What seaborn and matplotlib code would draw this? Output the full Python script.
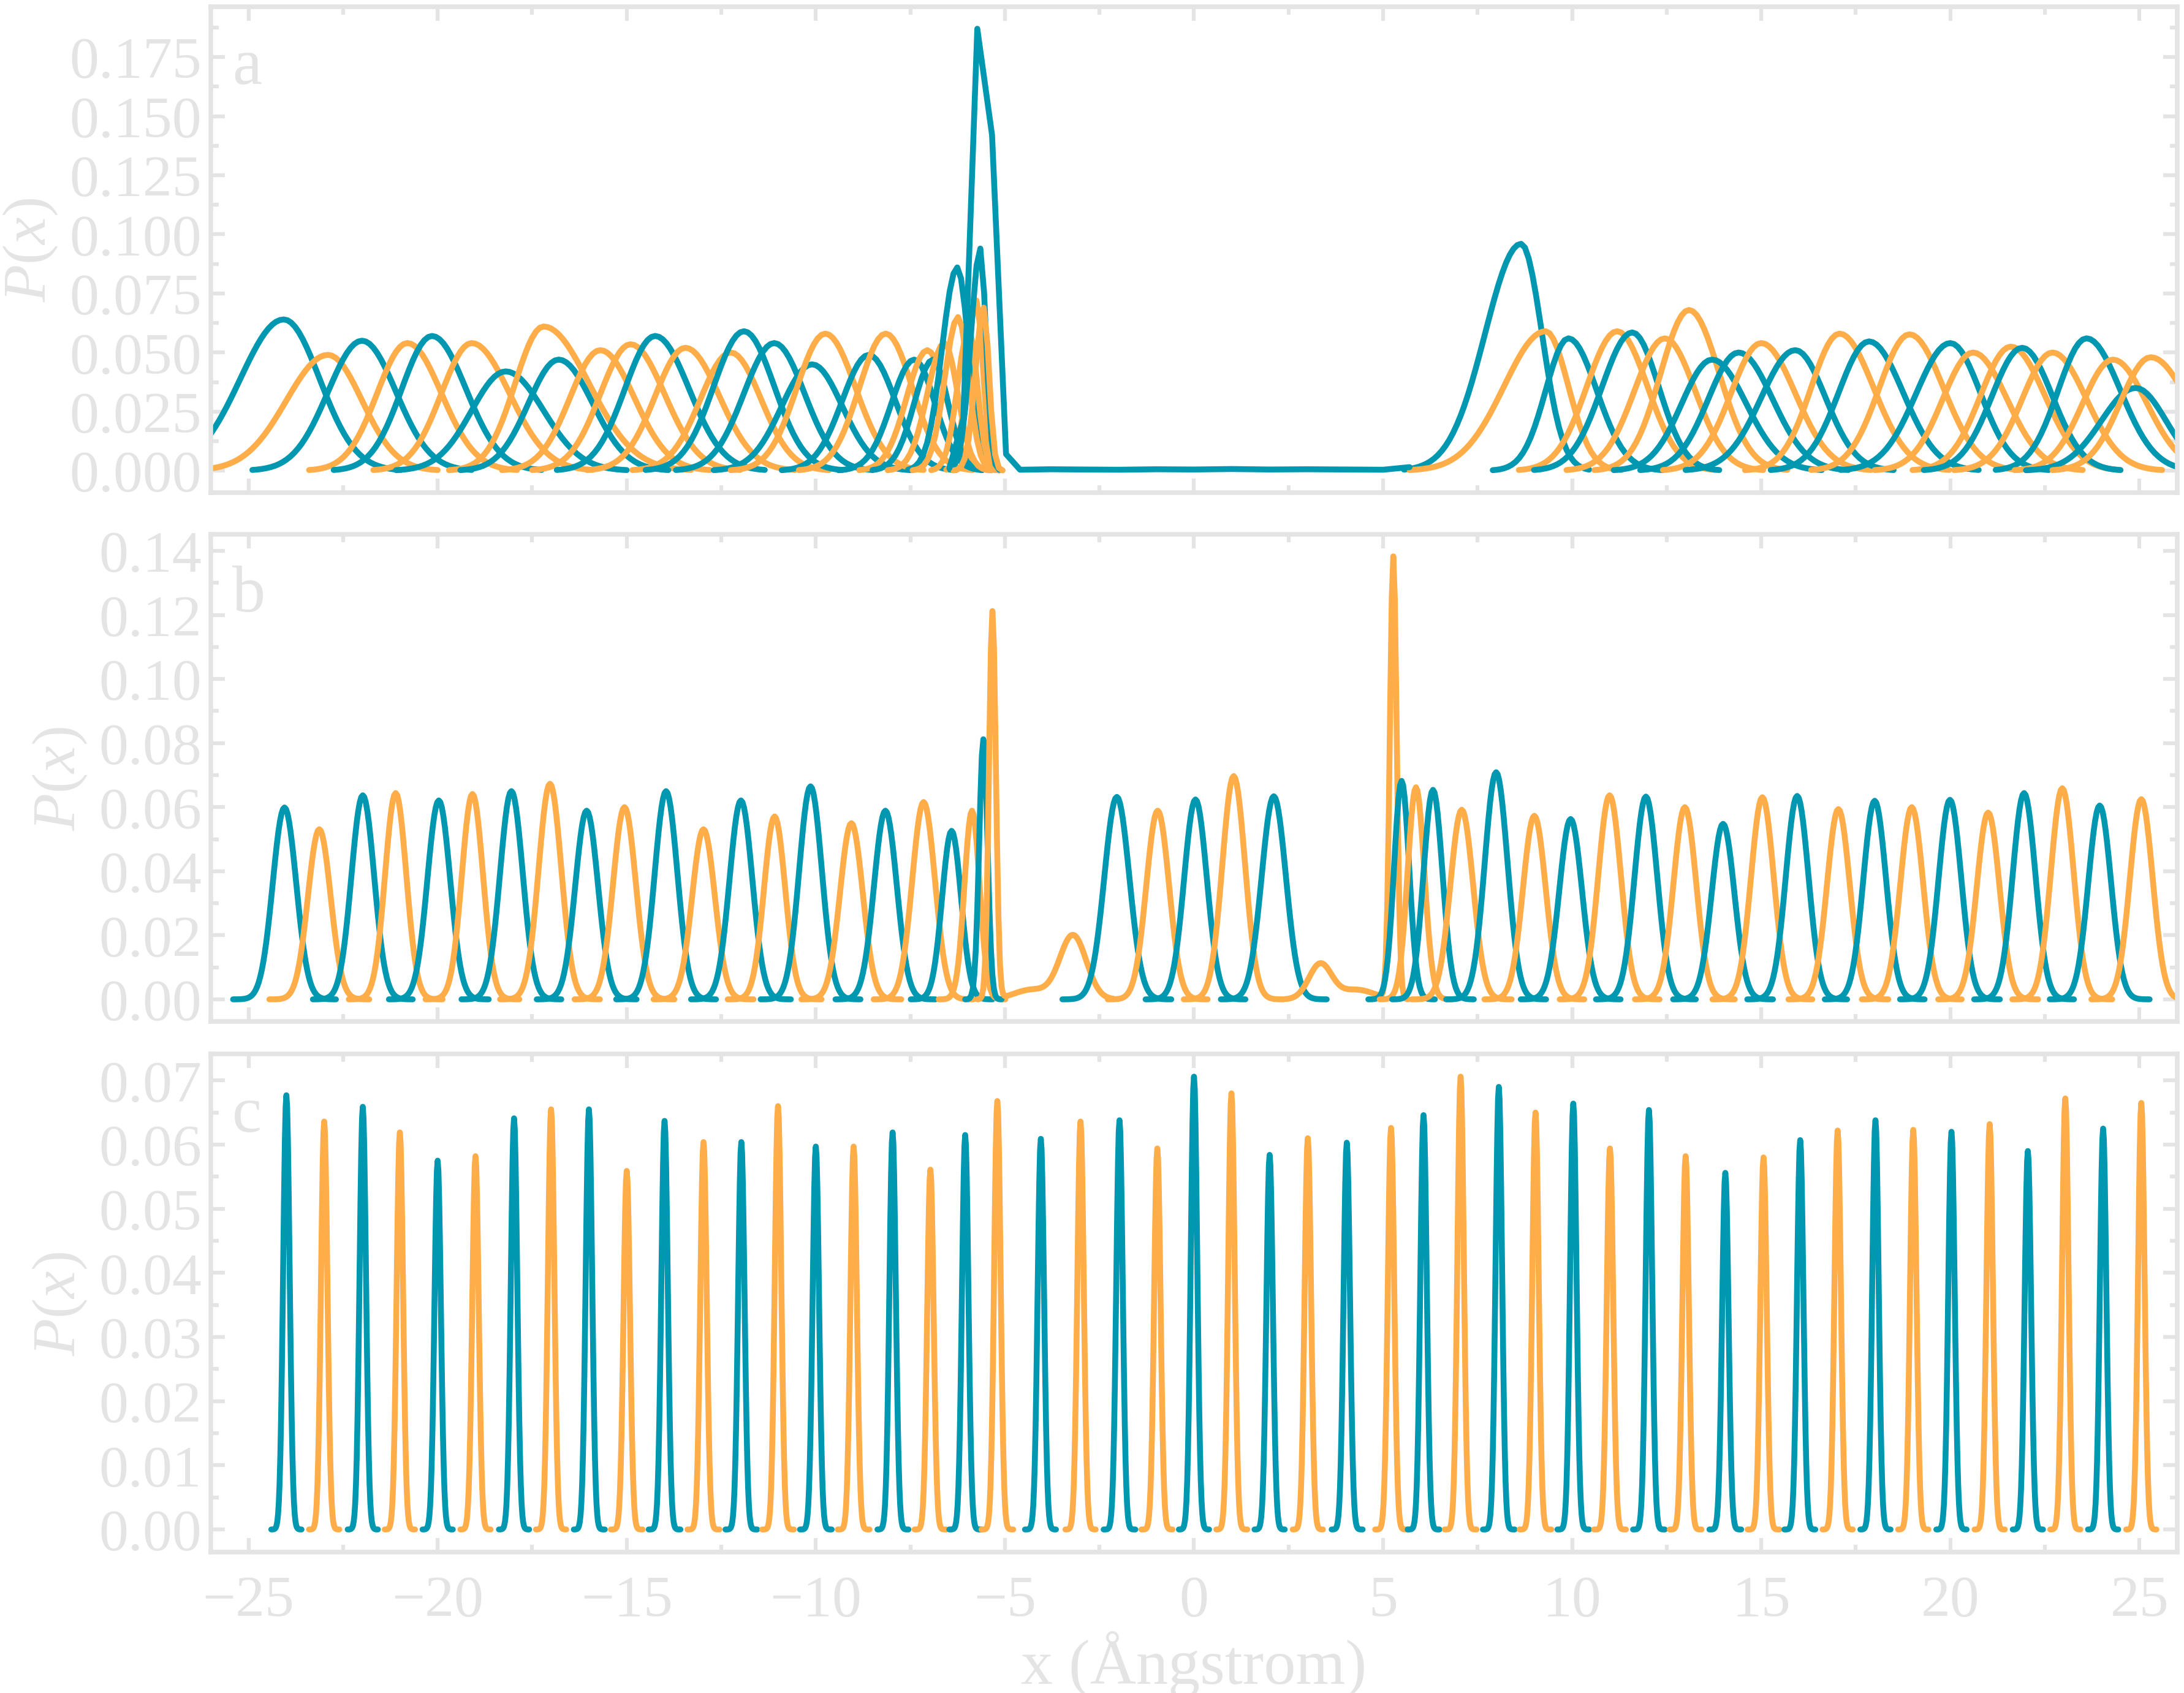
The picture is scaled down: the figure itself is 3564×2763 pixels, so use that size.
#!/usr/bin/env python3
"""
Umbrella sampling window histograms, three panels (a, b, c).
Values read off the reference figure; each window is described by its peak
position, height and width.
"""

import numpy as np
import pandas as pd
import matplotlib
matplotlib.use("Agg")
import matplotlib.pyplot as plt
import seaborn as sns
from matplotlib.ticker import MultipleLocator, AutoMinorLocator

TEAL = "#0097b0"
ORANGE = "#ffad48"
GRAY = "#e4e4e4"
COLORS = {"T": TEAL, "O": ORANGE}

# ---------------- panel a ----------------
a_centers = [-24.07, -22.9, -22.0, -20.8, -20.15, -19.1, -18.2, -17.2, -16.8, -15.7,
             -14.9, -14.25, -13.45, -12.25, -11.9, -11.1, -10.1, -9.75, -8.6, -8.15,
             -7.4, -7.05, -6.9, -6.6, -6.26, -6.24, -5.95, -5.75, -5.65, -5.56,
             8.65, 9.3, 9.9, 11.19, 11.59, 12.45, 13.09, 13.7, 14.4, 15.0,
             15.9, 17.07, 17.85, 18.92, 20.0, 20.6, 21.6, 21.9, 22.7, 23.6,
             24.3, 24.9, 25.3]
a_heights = [0.064, 0.049, 0.055, 0.054, 0.057, 0.054, 0.042, 0.061, 0.047, 0.051,
             0.0535, 0.057, 0.052, 0.050, 0.059, 0.054, 0.045, 0.058, 0.049, 0.058,
             0.047, 0.051, 0.047, 0.054, 0.086, 0.065, 0.060, 0.072, 0.094, 0.069,
             0.096, 0.059, 0.056, 0.059, 0.0585, 0.056, 0.068, 0.047, 0.050, 0.054,
             0.051, 0.058, 0.0547, 0.0577, 0.054, 0.050, 0.0525, 0.052, 0.050, 0.056,
             0.047, 0.035, 0.048]
a_sig_left = [1.15, 1.1, 0.9, 0.8, 0.8, 0.8, 0.9, 0.75, 0.8, 0.8,
              0.8, 0.8, 0.8, 0.8, 0.8, 0.8, 0.8, 0.75, 0.7, 0.7,
              0.6, 0.55, 0.5, 0.45, 0.4, 0.35, 0.3, 0.25, 0.25, 0.22,
              0.95, 1.1, 0.6, 0.8, 0.8, 0.8, 0.75, 0.8, 0.8, 0.8,
              0.9, 0.75, 0.8, 0.8, 0.9, 0.8, 0.8, 0.8, 0.8, 0.75,
              0.8, 0.9, 0.8]
a_sig_right = [0.95, 0.9, 0.9, 0.9, 0.9, 1.0, 1.0, 1.2, 0.9, 0.9,
               0.9, 0.9, 0.9, 0.8, 0.8, 0.8, 0.8, 0.8, 0.7, 0.7,
               0.55, 0.5, 0.4, 0.35, 0.3, 0.28, 0.22, 0.17, 0.15, 0.14,
               0.55, 0.6, 0.75, 0.8, 0.7, 0.8, 0.8, 0.9, 0.9, 0.9,
               0.8, 0.9, 0.9, 0.9, 0.8, 0.9, 0.9, 0.8, 0.9, 0.9,
               0.9, 0.8, 1.0]
a_colors = ["T", "O", "T", "O", "T", "O", "T", "O", "T", "O",
            "O", "T", "O", "O", "T", "T", "T", "O", "T", "O",
            "T", "O", "T", "O", "T", "O", "O", "O", "T", "O",
            "T", "O", "T", "O", "T", "O", "O", "T", "T", "O",
            "T", "O", "T", "O", "T", "O", "O", "T", "O", "T",
            "O", "T", "O"]

# the tall window in panel a (coarse bins, long flat tail across the gap)
big_x = [-6.47, -6.1, -5.73, -5.34, -4.97, -4.6, -3.8, -3.0, -2.0, -1.0,
         0.0, 1.0, 2.0, 3.0, 4.0, 5.0, 5.7]
big_p = [0.001, 0.022, 0.187, 0.142, 0.007, 0.0004, 0.0006, 0.0005, 0.0004, 0.0006,
         0.0005, 0.0007, 0.0005, 0.0006, 0.0005, 0.0004, 0.0015]

# ---------------- panel b ----------------
b_centers = [-24.05, -23.13, -21.98, -21.11, -19.97, -19.08, -18.05, -17.03, -16.06, -15.06,
             -13.96, -12.97, -11.98, -11.09, -10.14, -9.06, -8.16, -7.15, -6.41, -5.87,
             -5.57, -5.33, -2.04, -0.96, 0.04, 1.05, 2.11, 5.27, 5.49, 5.87,
             6.32, 7.08, 7.99, 9.0, 9.96, 10.99, 11.95, 12.98, 13.99, 15.03,
             15.95, 17.04, 18.0, 18.98, 19.99, 21.0, 21.95, 22.96, 23.95, 25.05]
b_heights = [0.0599, 0.0531, 0.0637, 0.0644, 0.0621, 0.0641, 0.065, 0.0673, 0.0589, 0.060,
             0.065, 0.0531, 0.0621, 0.0571, 0.0665, 0.055, 0.0589, 0.0616, 0.0526, 0.0589,
             0.0812, 0.121, 0.0632, 0.0589, 0.0624, 0.0697, 0.0634, 0.138, 0.0682, 0.0662,
             0.0654, 0.0592, 0.0709, 0.0573, 0.0563, 0.0637, 0.0633, 0.060, 0.0548, 0.0631,
             0.0635, 0.0594, 0.062, 0.060, 0.0623, 0.0583, 0.0644, 0.0659, 0.0605, 0.0625]
b_sigmas = [0.31, 0.3, 0.3, 0.28, 0.3, 0.28, 0.3, 0.3, 0.3, 0.3,
            0.3, 0.3, 0.3, 0.28, 0.3, 0.3, 0.3, 0.3, 0.25, 0.2,
            0.11, 0.09, 0.33, 0.3, 0.3, 0.3, 0.32, 0.09, 0.2, 0.22,
            0.25, 0.3, 0.3, 0.3, 0.3, 0.3, 0.3, 0.3, 0.3, 0.3,
            0.3, 0.3, 0.3, 0.3, 0.3, 0.3, 0.3, 0.3, 0.3, 0.3]
# side bumps and shoulders of the two tall panel-b windows: window, centre, height, width
b_extra_win = [21, 21, 27, 27]
b_extra_c = [-3.2, -4.3, 3.34, 4.3]
b_extra_h = [0.020, 0.003, 0.011, 0.003]
b_extra_s = [0.35, 0.45, 0.3, 0.45]

# ---------------- panel c ----------------
c_centers = [-24.0, -23.0, -21.98, -21.0, -20.0, -19.0, -17.98, -17.0, -16.0, -15.0,
             -14.0, -12.97, -11.97, -11.0, -10.0, -9.0, -7.97, -6.97, -6.05, -5.2,
             -4.05, -3.0, -1.97, -0.97, 0.0, 0.99, 2.0, 3.01, 4.04, 5.21,
             6.07, 7.05, 8.06, 9.03, 10.03, 11.0, 12.03, 13.0, 14.05, 15.06,
             16.03, 17.02, 18.02, 19.02, 20.03, 21.04, 22.05, 23.04, 24.04, 25.05]
c_heights = [0.0677, 0.0636, 0.0659, 0.0619, 0.0575, 0.0582, 0.0641, 0.0655, 0.0655, 0.0559,
             0.0637, 0.0604, 0.0604, 0.066, 0.0597, 0.0597, 0.0619, 0.0561, 0.0615, 0.0668,
             0.0609, 0.0636, 0.0638, 0.0594, 0.0706, 0.068, 0.0584, 0.061, 0.0603, 0.0626,
             0.0646, 0.0706, 0.069, 0.065, 0.0664, 0.0594, 0.0654, 0.0582, 0.0556, 0.058,
             0.0607, 0.0622, 0.0638, 0.0623, 0.062, 0.0632, 0.059, 0.0672, 0.0625, 0.0665]
c_colors = ["T", "O"] * 25
c_sigma = 0.085


def window(c, h, sl, sr, step, lo=None, hi=None):
    """Histogram-like profile of one window, sampled on bins through its peak."""
    lo = c - 3.2 * sl if lo is None else lo
    hi = c + 3.2 * sr if hi is None else hi
    k = np.arange(np.floor((lo - c) / step), np.ceil((hi - c) / step) + 1)
    x = c + k * step
    s = np.where(x < c, sl, sr)
    return x, h * np.exp(-0.5 * ((x - c) / s) ** 2)


def panel_a_frame():
    parts, pal = [], {}
    for i, (c, h, sl, sr, col) in enumerate(zip(a_centers, a_heights, a_sig_left,
                                               a_sig_right, a_colors)):
        x, p = window(c, h, sl, sr, 0.1)
        parts.append(pd.DataFrame({"x": x, "P": p, "win": f"a{i:02d}"}))
        pal[f"a{i:02d}"] = COLORS[col]
    parts.append(pd.DataFrame({"x": big_x, "P": big_p, "win": "abig"}))
    pal["abig"] = TEAL
    return pd.concat(parts, ignore_index=True), pal


def panel_b_frame():
    parts, pal = [], {}
    for i, (c, h, s) in enumerate(zip(b_centers, b_heights, b_sigmas)):
        col = "T" if i % 2 == 0 else "O"
        extras = [(ec, eh, es) for w, ec, eh, es in
                  zip(b_extra_win, b_extra_c, b_extra_h, b_extra_s) if w == i]
        lo = min([c - 4.3 * s] + [ec - 3.0 * es for ec, _, es in extras])
        hi = max([c + 4.3 * s] + [ec + 3.0 * es for ec, _, es in extras])
        x, p = window(c, h, s, s, 0.04, lo, hi)
        for ec, eh, es in extras:
            p = p + eh * np.exp(-0.5 * ((x - ec) / es) ** 2)
        parts.append(pd.DataFrame({"x": x, "P": p, "win": f"b{i:02d}"}))
        pal[f"b{i:02d}"] = COLORS[col]
    return pd.concat(parts, ignore_index=True), pal


def panel_c_frame():
    parts, pal = [], {}
    for i, (c, h, col) in enumerate(zip(c_centers, c_heights, c_colors)):
        x, p = window(c, h, c_sigma, c_sigma, 0.02, c - 0.4, c + 0.4)
        parts.append(pd.DataFrame({"x": x, "P": p, "win": f"c{i:02d}"}))
        pal[f"c{i:02d}"] = COLORS[col]
    return pd.concat(parts, ignore_index=True), pal


def style_axes(ax, ymajor, letter, show_xlabels):
    ax.set_xlim(-26, 26)
    ax.xaxis.set_major_locator(MultipleLocator(5))
    ax.xaxis.set_minor_locator(AutoMinorLocator(2))
    ax.yaxis.set_major_locator(MultipleLocator(ymajor))
    ax.yaxis.set_minor_locator(AutoMinorLocator(2))
    ax.tick_params(which="both", direction="in", top=True, right=True,
                   colors=GRAY, labelcolor=GRAY)
    ax.tick_params(which="major", length=5.5, width=1.5, labelsize=23)
    ax.tick_params(which="minor", length=3.0, width=1.5)
    ax.tick_params(axis="x", pad=9)
    if not show_xlabels:
        ax.tick_params(axis="x", labelbottom=False)
    for sp in ax.spines.values():
        sp.set_color(GRAY)
        sp.set_linewidth(1.8)
    ax.set_ylabel(r"$P(x)$", fontsize=24, color=GRAY)
    ax.set_xlabel("")
    ax.text(0.011, 0.937, letter, transform=ax.transAxes, ha="left", va="top",
            fontsize=26, color=GRAY)


def main():
    sns.set_style("ticks")
    plt.rcParams["font.family"] = ["Liberation Serif", "DejaVu Serif"]
    plt.rcParams["mathtext.fontset"] = "custom"
    plt.rcParams["mathtext.rm"] = "Liberation Serif"
    plt.rcParams["mathtext.it"] = "Liberation Serif:italic"
    plt.rcParams["axes.unicode_minus"] = True

    fig = plt.figure(figsize=(11.88, 9.2133), dpi=300)
    left, width = 0.0965, 0.9004
    ax_a = fig.add_axes([left, 0.7088, width, 0.2869])
    ax_b = fig.add_axes([left, 0.3965, width, 0.2877])
    ax_c = fig.add_axes([left, 0.0832, width, 0.2941])

    frames = [(ax_a, panel_a_frame(), 0.025, "a", False),
              (ax_b, panel_b_frame(), 0.02, "b", False),
              (ax_c, panel_c_frame(), 0.01, "c", True)]
    for ax, (df, pal), ymaj, letter, show in frames:
        sns.lineplot(data=df, x="x", y="P", hue="win", palette=pal, estimator=None,
                     sort=False, legend=False, linewidth=2.3, ax=ax)
        ax.margins(y=0.05)
        style_axes(ax, ymaj, letter, show)

    ax_c.set_xlabel("x (Ångstrom)", fontsize=25, color=GRAY, labelpad=1)
    fig.savefig("out.png", dpi=300, facecolor="white")
    plt.close(fig)


if __name__ == "__main__":
    main()
